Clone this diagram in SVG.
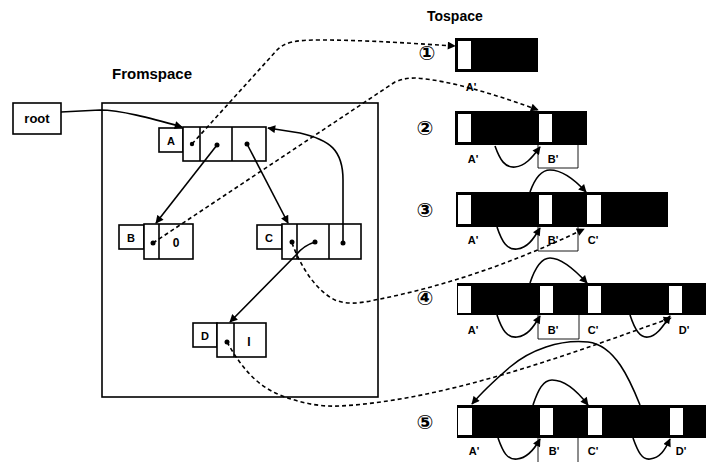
<svg xmlns="http://www.w3.org/2000/svg" width="706" height="462" viewBox="0 0 706 462">
<defs>
<marker id="ah" viewBox="0 0 10 10" refX="9" refY="5" markerWidth="9" markerHeight="8" markerUnits="userSpaceOnUse" orient="auto">
<path d="M0,0 L10,5 L0,10 Z" fill="#000"/>
</marker>
<style>
.bx{fill:#fff;stroke:#000;stroke-width:1.6}
.ln{fill:none;stroke:#000;stroke-width:1.6}
.ds{fill:none;stroke:#000;stroke-width:1.6;stroke-dasharray:4,3}
.th{fill:none;stroke:#000;stroke-width:0.9}
.blk{fill:#000}
.sl{fill:#fff}
.dot{fill:#000}
.t{font-family:"Liberation Sans",Arial,sans-serif;font-weight:bold;fill:#000}
.c{font-family:"DejaVu Sans",sans-serif;font-weight:bold;fill:#000;font-size:20px;text-anchor:middle}
</style>
</defs>

<text class="t" x="112" y="79" font-size="15">Fromspace</text>
<text class="t" x="427" y="21" font-size="14">Tospace</text>

<g id="fromspace"><rect class="bx" x="102" y="103" width="276" height="294"/></g>

<g id="root"><rect class="bx" x="13" y="103" width="48" height="31"/><text class="t" x="37" y="123" font-size="13" text-anchor="middle">root</text></g>

<g id="nodeA">
<rect class="bx" x="159" y="128" width="24" height="24"/><text class="t" x="171" y="145" font-size="11" text-anchor="middle">A</text>
<rect class="bx" x="183" y="127" width="83" height="34"/>
<line class="ln" x1="200" y1="127" x2="200" y2="161"/><line class="ln" x1="232" y1="127" x2="232" y2="161"/>
<circle class="dot" cx="192" cy="144" r="2.2"/><circle class="dot" cx="217" cy="145" r="2.5"/><circle class="dot" cx="247" cy="144" r="2.5"/>
</g>

<g id="nodeB">
<rect class="bx" x="119" y="225" width="25" height="24"/><text class="t" x="131" y="242" font-size="11" text-anchor="middle">B</text>
<rect class="bx" x="144" y="224" width="49" height="35"/>
<line class="ln" x1="159" y1="224" x2="159" y2="259"/>
<circle class="dot" cx="153" cy="243" r="2.5"/>
<text class="t" x="176" y="247" font-size="12" text-anchor="middle">0</text>
</g>

<g id="nodeC">
<rect class="bx" x="257" y="225" width="25" height="24"/><text class="t" x="269" y="242" font-size="11" text-anchor="middle">C</text>
<rect class="bx" x="282" y="224" width="79" height="35"/>
<line class="ln" x1="297" y1="224" x2="297" y2="259"/><line class="ln" x1="329" y1="224" x2="329" y2="259"/>
<circle class="dot" cx="292" cy="242" r="2.5"/><circle class="dot" cx="315" cy="242" r="2.5"/><circle class="dot" cx="343" cy="243" r="2.5"/>
</g>

<g id="nodeD">
<rect class="bx" x="193" y="323" width="24" height="24"/><text class="t" x="205" y="340" font-size="11" text-anchor="middle">D</text>
<rect class="bx" x="217" y="323" width="49" height="34"/>
<line class="ln" x1="234" y1="323" x2="234" y2="357"/>
<circle class="dot" cx="227" cy="342" r="2.5"/>
<text class="t" x="249" y="346" font-size="12" text-anchor="middle">I</text>
</g>

<g id="row1">
<text class="c" x="427" y="60">①</text>
<rect class="blk" x="455" y="38" width="83" height="34"/>
<rect class="sl" x="458" y="41" width="13" height="28"/>
<text class="t" x="471" y="91" font-size="11" text-anchor="middle">A'</text>
</g>

<g id="row2">
<text class="c" x="425" y="135">②</text>
<rect class="blk" x="455" y="111" width="132" height="34"/>
<rect class="sl" x="458" y="114" width="13" height="28"/><rect class="sl" x="539" y="114" width="13" height="28"/>
<path class="th" d="M538,145 V168 H578 V145"/>
<text class="t" x="473" y="163" font-size="11" text-anchor="middle">A'</text>
<text class="t" x="553" y="163" font-size="11" text-anchor="middle">B'</text>
</g>

<g id="row3">
<text class="c" x="425" y="217">③</text>
<rect class="blk" x="456" y="192" width="212" height="35"/>
<rect class="sl" x="458" y="195" width="13" height="29"/><rect class="sl" x="539" y="195" width="13" height="29"/><rect class="sl" x="587" y="195" width="14" height="29"/>
<path class="th" d="M538,227 V251 H578 V227"/>
<text class="t" x="473" y="244" font-size="11" text-anchor="middle">A'</text>
<text class="t" x="553" y="244" font-size="11" text-anchor="middle">B'</text>
<text class="t" x="593" y="244" font-size="11" text-anchor="middle">C'</text>
</g>

<g id="row4">
<text class="c" x="425" y="305">④</text>
<rect class="blk" x="457" y="283" width="249" height="32"/>
<rect class="sl" x="458" y="286" width="13" height="27"/><rect class="sl" x="540" y="286" width="13" height="27"/><rect class="sl" x="588" y="286" width="13" height="27"/><rect class="sl" x="669" y="286" width="13" height="27"/>
<path class="th" d="M538,315 V339 H579 V315"/>
<text class="t" x="473" y="334" font-size="11" text-anchor="middle">A'</text>
<text class="t" x="553" y="334" font-size="11" text-anchor="middle">B'</text>
<text class="t" x="593" y="334" font-size="11" text-anchor="middle">C'</text>
<text class="t" x="684" y="334" font-size="11" text-anchor="middle">D'</text>
</g>

<g id="row5">
<text class="c" x="425" y="429">⑤</text>
<rect class="blk" x="457" y="405" width="249" height="33"/>
<rect class="sl" x="458" y="408" width="14" height="27"/><rect class="sl" x="540" y="408" width="13" height="27"/><rect class="sl" x="588" y="408" width="14" height="27"/><rect class="sl" x="670" y="408" width="13" height="27"/>
<path class="th" d="M538,462 V438 M578,438 V462"/>
<text class="t" x="474" y="455" font-size="11" text-anchor="middle">A'</text>
<text class="t" x="554" y="455" font-size="11" text-anchor="middle">B'</text>
<text class="t" x="593" y="455" font-size="11" text-anchor="middle">C'</text>
<text class="t" x="681" y="455" font-size="11" text-anchor="middle">D'</text>
</g>

<g id="connectors">
<path class="ln" d="M61,112 L100,110 C120,110 150,118 182,127" marker-end="url(#ah)"/>
<path class="ln" d="M217,145 L156,223" marker-end="url(#ah)"/>
<path class="ln" d="M247,144 L288,223" marker-end="url(#ah)"/>
<path class="ln" d="M343,243 L343,180 C343,150 330,140 300,133 L268,128" marker-end="url(#ah)"/>
<path class="ln" d="M315,242 C305,245 300,250 296,255 L230,322" marker-end="url(#ah)"/>

<path class="ds" d="M192,144 L277,50 C285,42 295,40 320,40 C370,40 420,44 455,46" marker-end="url(#ah)"/>
<path class="ds" d="M153,243 L395,82 C402,79 408,78 415,78 C450,80 500,96 538,110" marker-end="url(#ah)"/>
<path class="ds" d="M292,243 C300,265 315,290 335,300 C350,306 365,302 380,299 C450,285 520,260 584,229" marker-end="url(#ah)"/>
<path class="ds" d="M227,342 C240,365 255,385 280,395 C300,403 320,407 340,406 C450,400 580,350 671,318" marker-end="url(#ah)"/>

<path class="ln" d="M495,146 C500,160 505,168 515,167 C525,166 532,158 540,147" marker-end="url(#ah)"/>
<path class="ln" d="M530,192 C535,178 542,170 550,170 C562,170 575,180 586,192" marker-end="url(#ah)"/>
<path class="ln" d="M497,227 C502,242 507,250 517,249 C527,248 533,240 540,228" marker-end="url(#ah)"/>
<path class="ln" d="M530,283 C535,268 542,258 550,258 C562,258 575,270 587,283" marker-end="url(#ah)"/>
<path class="ln" d="M497,315 C502,330 507,338 517,337 C527,336 533,328 540,316" marker-end="url(#ah)"/>
<path class="ln" d="M630,315 C635,330 640,338 648,337 C657,336 663,326 670,316" marker-end="url(#ah)"/>
<path class="ln" d="M640,405 C630,380 615,345 588,342 C560,339 530,350 510,367 C495,380 482,392 472,404" marker-end="url(#ah)"/>
<path class="ln" d="M533,405 C538,390 543,380 552,380 C565,380 578,392 588,405" marker-end="url(#ah)"/>
<path class="ln" d="M498,438 C503,452 507,460 517,459 C527,458 534,450 540,439" marker-end="url(#ah)"/>
<path class="ln" d="M633,438 C638,452 642,460 650,459 C660,458 665,450 670,439" marker-end="url(#ah)"/>
</g>
</svg>
